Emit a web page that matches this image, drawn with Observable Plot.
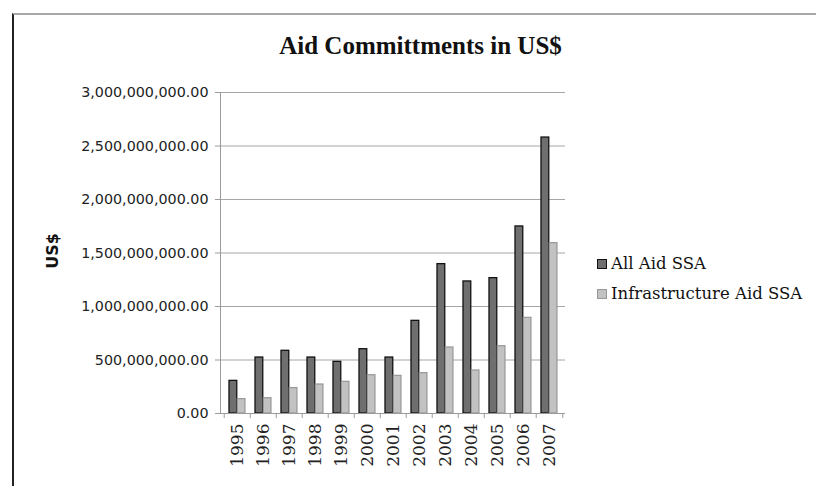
<!DOCTYPE html>
<html>
<head>
<meta charset="utf-8">
<script src="https://cdn.jsdelivr.net/npm/d3@7"></script>
<script src="https://cdn.jsdelivr.net/npm/@observablehq/plot@0.6"></script>
<style>
  html, body { margin: 0; padding: 0; background: #fff; }
  #wrap { position: relative; width: 816px; height: 486px; overflow: hidden; background: #fff; }
  #frame { position: absolute; left: 12px; top: 13px; width: 900px; height: 600px;
           border-left: 2px solid #222; border-top: 2px solid #a8a8a8; box-sizing: border-box; }
  #title { position: absolute; left: 0; width: 841px; top: 32px; text-align: center;
           font-family: "Liberation Serif", serif; font-weight: bold; font-size: 25px; color: #111; }
  #ylab { position: absolute; left: 52px; top: 251px; transform: translate(-50%, -50%) rotate(-90deg);
          font-family: "DejaVu Sans", sans-serif; font-weight: bold; font-size: 16px; color: #111; white-space: nowrap; }
  #chart { position: absolute; left: 0; top: 0; }
  .leg { position: absolute; left: 597px; display: flex; align-items: center;
         font-family: "DejaVu Serif", serif; font-size: 16.5px; color: #111; white-space: nowrap; }
  .sw { width: 10px; height: 10px; box-sizing: border-box; margin-right: 4px; }
</style>
</head>
<body>
<div id="wrap">
  <div id="frame"></div>
  <div id="chart"></div>
  <div id="title">Aid Committments in US$</div>
  <div id="ylab">US$</div>
  <div id="legend"></div>
</div>
<script>
// ---- data ----
const years = ["1995","1996","1997","1998","1999","2000","2001","2002","2003","2004","2005","2006","2007"];
const allAid = [305e6, 523e6, 586e6, 523e6, 483e6, 601e6, 523e6, 866e6, 1396e6, 1234e6, 1265e6, 1748e6, 2579e6];
const infraAid = [134e6, 143e6, 237e6, 271e6, 296e6, 358e6, 352e6, 377e6, 617e6, 402e6, 629e6, 894e6, 1592e6];
const yTicks = [0, 500e6, 1000e6, 1500e6, 2000e6, 2500e6, 3000e6];
const seriesNames = ["All Aid SSA", "Infrastructure Aid SSA"];
const seriesFill = ["#6f6f6f", "#c2c2c2"];
const seriesStroke = ["#111111", "#979797"];

const table = years.map((y, i) => ({year: y, all: allAid[i], infra: infraAid[i]}));

const W = 816, H = 486;
const mL = 220, mR = 251, mT = 92, mB = 73;
const band = (W - mL - mR) / years.length;

const fmt = d3.format(",.2f");

const chart = Plot.plot({
  width: W, height: H,
  marginLeft: mL, marginRight: mR, marginTop: mT, marginBottom: mB,
  style: {background: "transparent"},
  x: {type: "band", domain: years, padding: 0},
  y: {domain: [0, 3e9]},
  marks: [
    Plot.gridY(yTicks, {stroke: "#a6a6a6", strokeOpacity: 1}),
    Plot.barY(table, {x: "year", y: "all", fill: seriesFill[0], stroke: seriesStroke[0], strokeWidth: 1.3,
      insetLeft: 5, insetRight: band - 13.3}),
    Plot.barY(table, {x: "year", y: "infra", fill: seriesFill[1], stroke: seriesStroke[1], strokeWidth: 1.2,
      insetLeft: 13.3, insetRight: band - 21.5}),
    Plot.frame({anchor: "left", stroke: "#9a9a9a"}),
    Plot.ruleY([0], {stroke: "#9a9a9a"}),
    Plot.axisY(yTicks, {tickSize: 5, tickPadding: 7, tickFormat: fmt, stroke: "#9a9a9a", fill: "#222",
      fontFamily: "DejaVu Sans", fontSize: 14.3, label: null}),
    Plot.axisX({tickSize: 5, tickFormat: () => "", dx: -band / 2, stroke: "#9a9a9a", label: null}),
    Plot.axisX([years[years.length - 1]], {tickSize: 5, tickFormat: () => "", dx: band / 2, stroke: "#9a9a9a", label: null}),
    Plot.axisX({tickSize: 0, tickPadding: 10, tickRotate: -90, fill: "#222",
      fontFamily: "DejaVu Serif", fontSize: 17, label: null})
  ]
});
document.getElementById("chart").appendChild(chart);

// legend
const legend = document.getElementById("legend");
const legTops = [254, 284];
seriesNames.forEach((name, i) => {
  const row = document.createElement("div");
  row.className = "leg";
  row.style.top = legTops[i] + "px";
  const sw = document.createElement("div");
  sw.className = "sw";
  sw.style.background = seriesFill[i];
  sw.style.border = "1px solid " + seriesStroke[i];
  row.appendChild(sw);
  const t = document.createElement("span");
  t.textContent = name;
  row.appendChild(t);
  legend.appendChild(row);
});
</script>
</body>
</html>
